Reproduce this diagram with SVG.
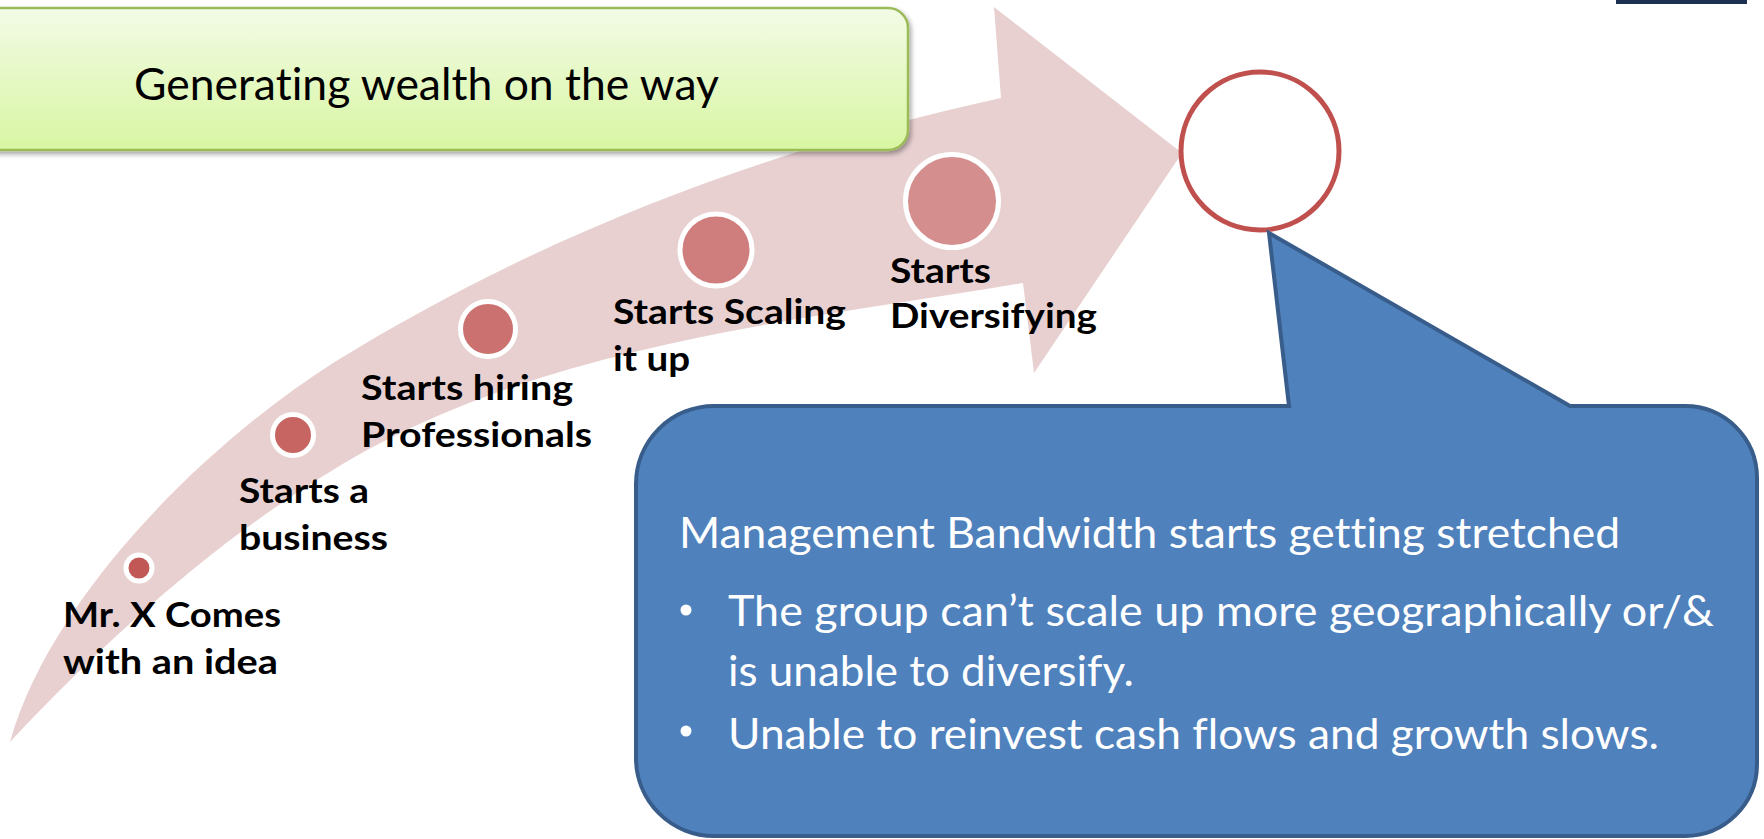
<svg xmlns="http://www.w3.org/2000/svg" width="1764" height="839" viewBox="0 0 1764 839">
  <defs>
    <linearGradient id="boxFill" x1="0" y1="0" x2="0" y2="1">
      <stop offset="0" stop-color="#F3FBE6"/>
      <stop offset="1" stop-color="#D8F6A2"/>
    </linearGradient>
    <filter id="softShadow" x="-5%" y="-10%" width="110%" height="130%">
      <feDropShadow dx="2" dy="3" stdDeviation="2.5" flood-color="#000000" flood-opacity="0.35"/>
    </filter>
    <style>
      text { font-variant-ligatures: none; font-feature-settings: "liga" 0, "clig" 0; }
      .label { font-family: Lato, "Open Sans", "Liberation Sans", sans-serif; font-weight: bold; font-size: 35px; fill: #000000; }
      .title { font-family: Lato, "Open Sans", "Liberation Sans", sans-serif; font-size: 44px; fill: #000000; }
      .note { font-family: Lato, "Open Sans", "Liberation Sans", sans-serif; font-size: 42px; fill: #FFFFFF; }
      .bullet { fill: #FFFFFF; }
      .dot { stroke: #FFFFFF; stroke-width: 5; }
    </style>
  </defs>

  <rect width="1764" height="839" fill="#FFFFFF"/>

  <!-- small dark bar at the top right corner -->
  <rect x="1616" y="0" width="131" height="4" fill="#1D3250"/>

  <!-- curved growth arrow -->
  <g id="growth-arrow">
    <path fill="#E8D0D1" d="M 10,742
      C 50,600 200,448 333,363
      C 553,227 781,146 1001,98
      L 994,7
      L 1182,153
      L 1034,373
      L 1023,283
      C 803,320 567,342 367,450
      C 247,517 130,614 10,742 Z"/>
  </g>

  <!-- header box -->
  <g id="header">
    <rect x="-30" y="8" width="938" height="142" rx="20" ry="20" fill="url(#boxFill)" stroke="#9BBB59" stroke-width="2.5" filter="url(#softShadow)"/>
    <text class="title" x="134" y="100" textLength="585" lengthAdjust="spacingAndGlyphs">Generating wealth on the way</text>
  </g>

  <!-- milestones along the arrow -->
  <g id="step-idea">
    <circle class="dot" cx="139" cy="568" r="13" fill="#C15856"/>
    <text class="label" x="63" y="627" textLength="218" lengthAdjust="spacingAndGlyphs">Mr. X Comes</text>
    <text class="label" x="63" y="674" textLength="215" lengthAdjust="spacingAndGlyphs">with an idea</text>
  </g>
  <g id="step-business">
    <circle class="dot" cx="293" cy="435" r="20.5" fill="#C76563"/>
    <text class="label" x="239" y="503" textLength="130" lengthAdjust="spacingAndGlyphs">Starts a</text>
    <text class="label" x="239" y="550" textLength="149" lengthAdjust="spacingAndGlyphs">business</text>
  </g>
  <g id="step-hiring">
    <circle class="dot" cx="488" cy="329" r="27.5" fill="#CB7170"/>
    <text class="label" x="361" y="400" textLength="212" lengthAdjust="spacingAndGlyphs">Starts hiring</text>
    <text class="label" x="361" y="447" textLength="231" lengthAdjust="spacingAndGlyphs">Professionals</text>
  </g>
  <g id="step-scaling">
    <circle class="dot" cx="716" cy="250" r="36" fill="#D07E7D"/>
    <text class="label" x="613" y="324" textLength="233" lengthAdjust="spacingAndGlyphs">Starts Scaling</text>
    <text class="label" x="613" y="371" textLength="77" lengthAdjust="spacingAndGlyphs">it up</text>
  </g>
  <g id="step-diversifying">
    <circle class="dot" cx="952" cy="201" r="46.5" fill="#D48E8D"/>
    <text class="label" x="890" y="283" textLength="101" lengthAdjust="spacingAndGlyphs">Starts</text>
    <text class="label" x="890" y="328" textLength="207" lengthAdjust="spacingAndGlyphs">Diversifying</text>
  </g>

  <!-- empty target ring -->
  <g id="target">
    <circle cx="1260" cy="151" r="79" fill="#FFFFFF" stroke="#C0504D" stroke-width="5"/>
  </g>

  <!-- speech callout -->
  <g id="callout">
    <path fill="#4F81BD" stroke="#385D8A" stroke-width="4" stroke-linejoin="miter" d="M 714,406 L 1289,406 L 1269,233 L 1570,406 L 1685,406
      A 72 72 0 0 1 1757,478 L 1757,764 A 72 72 0 0 1 1685,836 L 714,836
      A 78 78 0 0 1 636,758 L 636,484 A 78 78 0 0 1 714,406 Z"/>
    <text class="note" x="679" y="548" textLength="941" lengthAdjust="spacingAndGlyphs">Management Bandwidth starts getting stretched</text>
    <circle class="bullet" cx="686" cy="610" r="5.5"/>
    <text class="note" x="728" y="626" textLength="986" lengthAdjust="spacingAndGlyphs">The group can’t scale up more geographically or/&amp;</text>
    <text class="note" x="728" y="686" textLength="406" lengthAdjust="spacingAndGlyphs">is unable to diversify.</text>
    <circle class="bullet" cx="686" cy="731" r="5.5"/>
    <text class="note" x="728" y="749" textLength="931" lengthAdjust="spacingAndGlyphs">Unable to reinvest cash flows and growth slows.</text>
  </g>
</svg>
